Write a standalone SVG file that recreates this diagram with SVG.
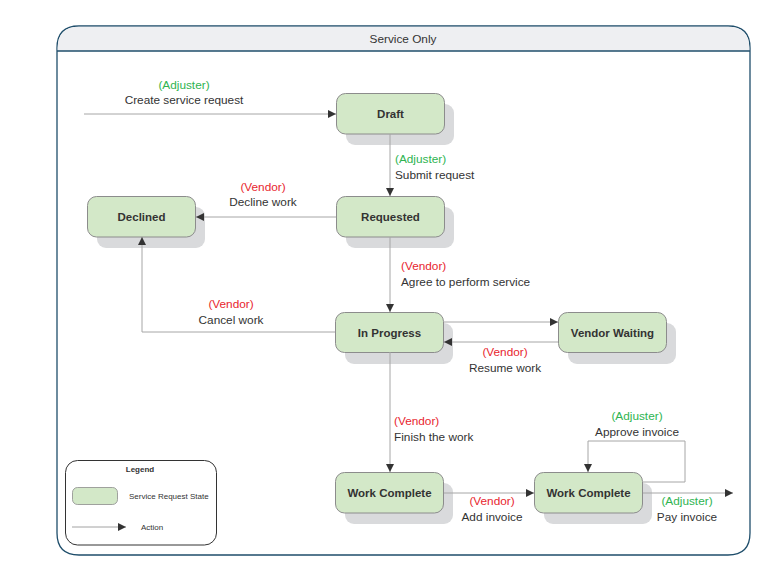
<svg xmlns="http://www.w3.org/2000/svg" width="780" height="587" viewBox="0 0 780 587">
  <style>
    .frame { fill: #ffffff; stroke: #1f4e6b; stroke-width: 1.3; }
    .band { fill: #eeeff2; }
    .shadow { fill: #d9dadc; }
    .state { fill: #d3e8c8; stroke: #8c8c8c; stroke-width: 1; }
    .state-label { font-family: "Liberation Sans", Arial, sans-serif; font-size: 11.5px; font-weight: bold; fill: #333333; text-anchor: middle; }
    .edge { fill: none; stroke: #a6a6a6; stroke-width: 1; }
    .txt { font-family: "Liberation Sans", Arial, sans-serif; font-size: 11.8px; fill: #333333; }
    .actor-a { fill: #2eb450; }
    .actor-v { fill: #e8252e; }
    .mid { text-anchor: middle; }
    .small { font-family: "Liberation Sans", Arial, sans-serif; font-size: 8px; fill: #333333; }
  </style>
  <defs>
    <marker id="arrow" viewBox="0 0 10 10" refX="10" refY="5" markerWidth="8" markerHeight="8" markerUnits="userSpaceOnUse" orient="auto">
      <path d="M0,0 L10,5 L0,10 Z" fill="#333333"/>
    </marker>
  </defs>

  <!-- swimlane frame -->
  <g id="frame">
    <path class="frame" d="M79,26 H728 Q750,26 750,48 V533 Q750,555 728,555 H79 Q57,555 57,533 V48 Q57,26 79,26 Z"/>
    <path class="band" d="M79,26.7 H728 Q749.3,26.7 749.3,48 V51 H57.7 V48 Q57.7,26.7 79,26.7 Z"/>
    <line x1="57" y1="51" x2="750" y2="51" stroke="#1f4e6b" stroke-width="1.3"/>
    <text class="txt mid" x="403" y="43">Service Only</text>
  </g>

  <!-- states -->
  <g id="draft">
    <rect class="shadow" x="346" y="104" width="108" height="41" rx="9"/>
    <rect class="state" x="336.5" y="93.5" width="108" height="40.5" rx="9"/>
    <text class="state-label" x="390.5" y="118">Draft</text>
  </g>
  <g id="requested">
    <rect class="shadow" x="346" y="207" width="108" height="41" rx="9"/>
    <rect class="state" x="336.5" y="196.5" width="108" height="40.5" rx="9"/>
    <text class="state-label" x="390.5" y="221">Requested</text>
  </g>
  <g id="declined">
    <rect class="shadow" x="97" y="207" width="108" height="41" rx="9"/>
    <rect class="state" x="87.5" y="196.5" width="108" height="40.5" rx="9"/>
    <text class="state-label" x="141.5" y="221">Declined</text>
  </g>
  <g id="in-progress">
    <rect class="shadow" x="345" y="323" width="108" height="41" rx="9"/>
    <rect class="state" x="335.5" y="312.5" width="108" height="40" rx="9"/>
    <text class="state-label" x="389.5" y="337">In Progress</text>
  </g>
  <g id="vendor-waiting">
    <rect class="shadow" x="568" y="323" width="108" height="41" rx="9"/>
    <rect class="state" x="558.5" y="312.5" width="108" height="40" rx="9"/>
    <text class="state-label" x="612.5" y="337">Vendor Waiting</text>
  </g>
  <g id="work-complete">
    <rect class="shadow" x="345" y="483" width="108" height="41" rx="9"/>
    <rect class="state" x="335.5" y="472.5" width="108" height="40.5" rx="9"/>
    <text class="state-label" x="389.5" y="497">Work Complete</text>
  </g>
  <g id="work-complete-invoiced">
    <rect class="shadow" x="544" y="483" width="108" height="41" rx="9"/>
    <rect class="state" x="534.5" y="472.5" width="108" height="40.5" rx="9"/>
    <text class="state-label" x="588.5" y="497">Work Complete</text>
  </g>

  <!-- transitions -->
  <g id="connectors">
    <line class="edge" x1="84" y1="114" x2="336" y2="114" marker-end="url(#arrow)"/>
    <line class="edge" x1="390" y1="134" x2="390" y2="196" marker-end="url(#arrow)"/>
    <line class="edge" x1="336" y1="217" x2="196" y2="217" marker-end="url(#arrow)"/>
    <line class="edge" x1="390" y1="237" x2="390" y2="312" marker-end="url(#arrow)"/>
    <polyline class="edge" points="335,332 142,332 142,237" marker-end="url(#arrow)"/>
    <line class="edge" x1="444" y1="322" x2="558" y2="322" marker-end="url(#arrow)"/>
    <line class="edge" x1="558" y1="342" x2="444" y2="342" marker-end="url(#arrow)"/>
    <line class="edge" x1="390" y1="352" x2="390" y2="472" marker-end="url(#arrow)"/>
    <line class="edge" x1="444" y1="493" x2="534" y2="493" marker-end="url(#arrow)"/>
    <polyline class="edge" points="643,482 685,482 685,441 588,441 588,472" marker-end="url(#arrow)"/>
    <line class="edge" x1="643" y1="493" x2="733" y2="493" marker-end="url(#arrow)"/>
  </g>

  <!-- transition labels -->
  <g id="labels">
    <text class="txt actor-a mid" x="184" y="89">(Adjuster)</text>
    <text class="txt mid" x="184" y="104">Create service request</text>
    <text class="txt actor-a" x="395" y="163">(Adjuster)</text>
    <text class="txt" x="395" y="179">Submit request</text>
    <text class="txt actor-v mid" x="263" y="191">(Vendor)</text>
    <text class="txt mid" x="263" y="206">Decline work</text>
    <text class="txt actor-v" x="401" y="270">(Vendor)</text>
    <text class="txt" x="401" y="286">Agree to perform service</text>
    <text class="txt actor-v mid" x="231" y="308">(Vendor)</text>
    <text class="txt mid" x="231" y="324">Cancel work</text>
    <text class="txt actor-v mid" x="505" y="356">(Vendor)</text>
    <text class="txt mid" x="505" y="372">Resume work</text>
    <text class="txt actor-v" x="394" y="425">(Vendor)</text>
    <text class="txt" x="394" y="441">Finish the work</text>
    <text class="txt actor-a mid" x="637" y="420">(Adjuster)</text>
    <text class="txt mid" x="637" y="436">Approve invoice</text>
    <text class="txt actor-v mid" x="492" y="505">(Vendor)</text>
    <text class="txt mid" x="492" y="521">Add invoice</text>
    <text class="txt actor-a mid" x="687" y="505">(Adjuster)</text>
    <text class="txt mid" x="687" y="521">Pay invoice</text>
  </g>

  <!-- legend -->
  <g id="legend">
    <rect x="65.5" y="460.5" width="151" height="84.5" rx="12" fill="#ffffff" stroke="#333333" stroke-width="1"/>
    <text class="small mid" x="140" y="472" font-weight="bold">Legend</text>
    <rect x="72.5" y="487.5" width="45" height="17" rx="5" fill="#d3e8c8" stroke="#8c8c8c" stroke-width="0.8"/>
    <text class="small" x="129" y="499">Service Request State</text>
    <line x1="72" y1="527" x2="126" y2="527" stroke="#8c8c8c" stroke-width="0.8" marker-end="url(#arrow)"/>
    <text class="small" x="141" y="530">Action</text>
  </g>
</svg>
